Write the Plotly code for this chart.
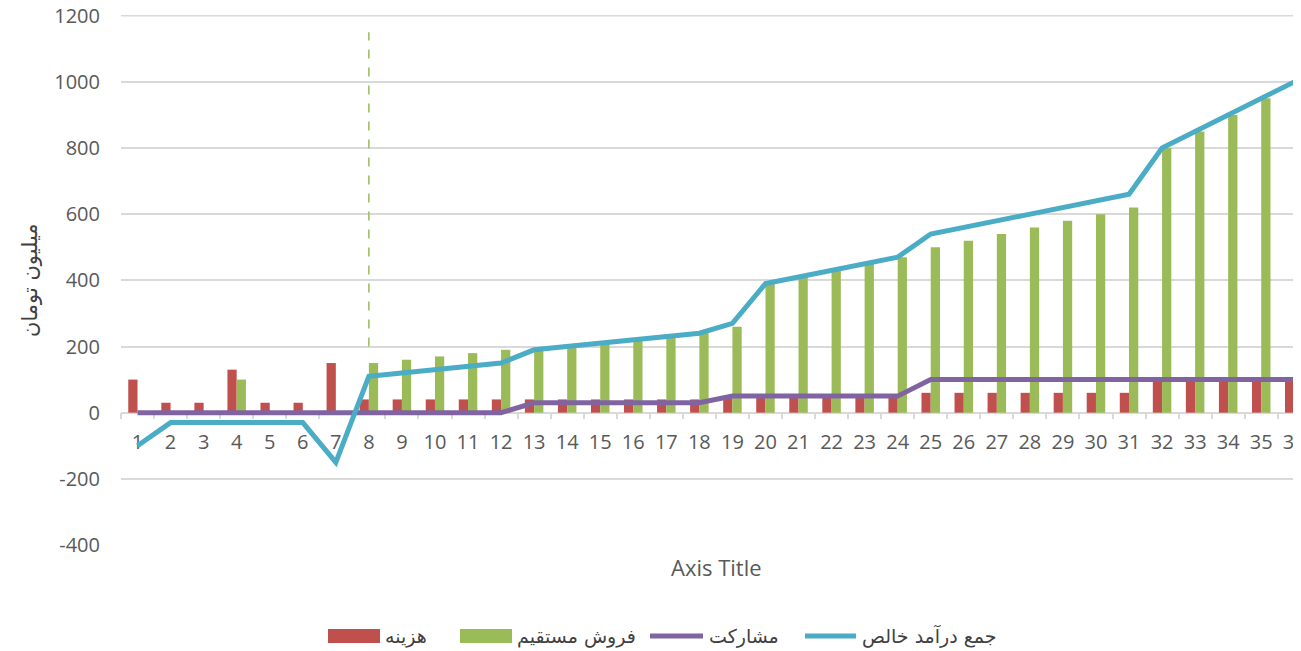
import plotly.graph_objects as go

categories = [str(i) for i in range(1, 37)]
cost = [100, 30, 30, 130, 30, 30, 150, 40, 40, 40, 40, 40, 40, 40, 40, 40, 40, 40,
        50, 50, 50, 50, 50, 50, 60, 60, 60, 60, 60, 60, 60, 100, 100, 100, 100, 100]
direct_sales = [0, 0, 0, 100, 0, 0, 0, 150, 160, 170, 180, 190, 190, 200, 210, 220, 230, 240,
                260, 390, 410, 430, 450, 470, 500, 520, 540, 560, 580, 600, 620, 800, 850, 900, 950, 1000]
participation = [0, 0, 0, 0, 0, 0, 0, 0, 0, 0, 0, 0, 30, 30, 30, 30, 30, 30,
                 50, 50, 50, 50, 50, 50, 100, 100, 100, 100, 100, 100, 100, 100, 100, 100, 100, 100]
net_income = [-100, -30, -30, -30, -30, -30, -150, 110, 120, 130, 140, 150, 190, 200, 210, 220, 230, 240,
              270, 390, 410, 430, 450, 470, 540, 560, 580, 600, 620, 640, 660, 800, 850, 900, 950, 1000]
names = ["هزینه", "فروش مستقیم", "مشارکت", "جمع درآمد خالص"]
colors = ["#C0504D", "#9BBB59", "#8064A2", "#4BACC6"]
y_ticks = [-400, -200, 0, 200, 400, 600, 800, 1000, 1200]
y_ticktext = ["-400", "-200", "0", "200", "400", "600", "800", "1000", "1200"]
marker_category = "8"
marker_range = [200, 1150]

# page has an 8px body margin; figure drawn at (8, 8)
OFF = 8
W, H = 1301 - OFF, 651 - OFF
L, R, T, B = 121 - OFF, 0, 15 - OFF, (651 - OFF) - (545 - OFF)
PW, PH = W - L - R, H - T - B
def px(x):  # page pixel -> paper fraction
    return (x - 121) / PW
def py(y):
    return (545 - y) / PH

fig = go.Figure()
fig.add_trace(go.Bar(x=categories, y=cost, name=names[0], marker=dict(color=colors[0], line=dict(width=0))))
fig.add_trace(go.Bar(x=categories, y=direct_sales, name=names[1], marker=dict(color=colors[1], line=dict(width=0))))
fig.add_trace(go.Scatter(x=categories, y=participation, name=names[2], mode="lines",
                         line=dict(color=colors[2], width=5)))
fig.add_trace(go.Scatter(x=categories, y=net_income, name=names[3], mode="lines",
                         line=dict(color=colors[3], width=5)))

cat_w = 33.05
fig.update_layout(
    width=W, height=H, autosize=False, margin=dict(l=L, r=R, t=T, b=B, autoexpand=False),
    paper_bgcolor="white", plot_bgcolor="rgba(0,0,0,0)",
    barmode="group", bargap=0.44, bargroupgap=0,
    showlegend=False,
    font=dict(family="Open Sans, DejaVu Sans", color="#595959"),
)
fig.update_xaxes(
    type="category", range=[-0.5, -0.5 + PW / cat_w], automargin=False,
    anchor="free", position=0.25, showline=True, linecolor="#D9D9D9", linewidth=1.5,
    ticks="outside", ticklen=6, tickcolor="#D9D9D9", tickwidth=1.5, tickson="boundaries",
    tickangle=0, tickfont=dict(size=20, color="#595959"), ticklabelstandoff=12,
    ticklabeloverflow="allow", showgrid=False, layer="below traces",
)
fig.update_yaxes(
    range=[-400, 1202], tickvals=y_ticks, ticktext=y_ticktext, automargin=False,
    showgrid=True, gridcolor="#D9D9D9", gridwidth=1.5, ticklabeloverflow="allow",
    zeroline=False, showline=False, tickfont=dict(size=20, color="#595959"), ticklabelstandoff=20,
)

# top gridline (plotly drops gridlines right at the plot edge)
fig.add_shape(type="line", xref="paper", yref="y", x0=0, x1=1, y0=y_ticks[-1], y1=y_ticks[-1],
              line=dict(color="#D9D9D9", width=1.5), layer="below")

mx = categories.index(marker_category)
fig.add_shape(type="line", xref="x", yref="y", x0=mx, x1=mx,
              y0=marker_range[0], y1=marker_range[1],
              line=dict(color=colors[1], width=1.5, dash="dash"))

fig.add_annotation(text="Axis Title", xref="paper", yref="paper", x=px(716), y=py(567),
                   xanchor="center", yanchor="middle",
                   showarrow=False, font=dict(size=22, color="#595959", family="Open Sans"))
fig.add_annotation(text="میلیون تومان", xref="paper", yref="paper", x=px(30), y=py(280),
                   xanchor="center", yanchor="middle",
                   textangle=-90, showarrow=False,
                   font=dict(size=21, color="#404040", family="DejaVu Sans"))

# legend (custom, below chart)
leg_y = 636
boxes = [(328, 380), (460, 512)]
for i, (x0, x1) in enumerate(boxes):
    fig.add_shape(type="rect", xref="paper", yref="paper", x0=px(x0), x1=px(x1),
                  y0=py(leg_y + 7), y1=py(leg_y - 7), line=dict(width=0), fillcolor=colors[i])
lines_ = [(650, 703), (805, 856)]
for j, (x0, x1) in enumerate(lines_):
    fig.add_shape(type="line", xref="paper", yref="paper", x0=px(x0), x1=px(x1),
                  y0=py(leg_y), y1=py(leg_y), line=dict(width=5, color=colors[2 + j]))
text_x = [383, 515, 707, 860]
for k in range(4):
    fig.add_annotation(text=names[k], xref="paper", yref="paper", x=px(text_x[k]), y=py(leg_y),
                       xanchor="left", yanchor="middle", showarrow=False,
                       font=dict(size=19, color="#404040", family="DejaVu Sans"))

fig.write_html("out.html", config={"responsive": False})
